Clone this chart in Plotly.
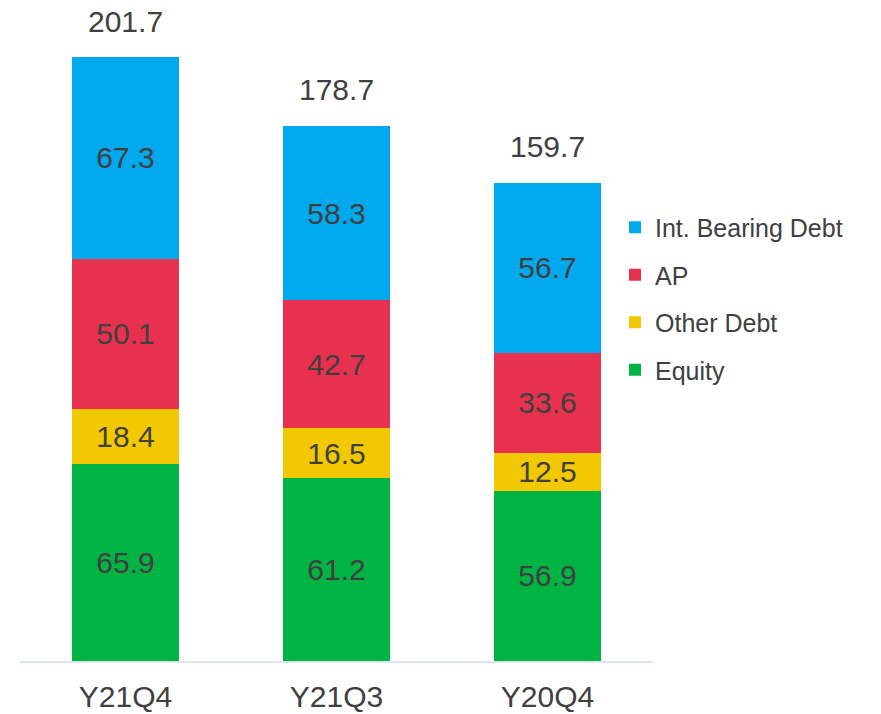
import plotly.graph_objects as go

categories = ["Y21Q4", "Y21Q3", "Y20Q4"]
equity = [65.9, 61.2, 56.9]
other_debt = [18.4, 16.5, 12.5]
ap = [50.1, 42.7, 33.6]
int_bearing_debt = [67.3, 58.3, 56.7]

series = [
    ("Equity", equity, "#00b444", 4),
    ("Other Debt", other_debt, "#f2c800", 3),
    ("AP", ap, "#e8304f", 2),
    ("Int. Bearing Debt", int_bearing_debt, "#00a8ee", 1),
]

FONT = "Liberation Sans, Arial, sans-serif"
TXT = "#404040"

fig = go.Figure()
for name, vals, color, rank in series:
    fig.add_trace(go.Bar(
        x=categories, y=vals, name=name, legendgroup=name, legendrank=rank,
        marker=dict(color=color, line=dict(width=0)),
        text=[f"{v:.1f}" for v in vals],
        textposition="inside", insidetextanchor="middle",
        constraintext="none",
        textfont=dict(family=FONT, size=30, color=TXT),
        hoverinfo="skip",
    ))

totals = [round(a + b + c + d, 1) for a, b, c, d in zip(equity, other_debt, ap, int_bearing_debt)]
for cat, tot in zip(categories, totals):
    fig.add_annotation(x=cat, y=tot, text=f"{tot:.1f}", showarrow=False,
                       yanchor="middle", yshift=36, borderpad=0,
                       font=dict(family=FONT, size=30, color=TXT))

fig.update_layout(
    barmode="stack", bargap=0.495,
    width=881, height=714,
    margin=dict(l=12, r=236, t=2, b=61, autoexpand=False),
    paper_bgcolor="white", plot_bgcolor="white",
    font=dict(family=FONT, color=TXT),
    legend=dict(
        traceorder="grouped", tracegroupgap=12,
        xref="container", yref="container",
        x=0.689, y=0.593, xanchor="left", yanchor="middle",
        font=dict(family=FONT, size=25, color=TXT),
        bgcolor="rgba(0,0,0,0)",
    ),
    showlegend=True,
)
fig.update_xaxes(showline=True, linecolor="#dde4f2", linewidth=2,
                 showgrid=False, ticks="", ticklabelstandoff=8, automargin=False,
                 tickfont=dict(family=FONT, size=30, color=TXT))
fig.update_yaxes(visible=False, range=[0, 217.4], showgrid=False)

fig.write_html("out.html")
